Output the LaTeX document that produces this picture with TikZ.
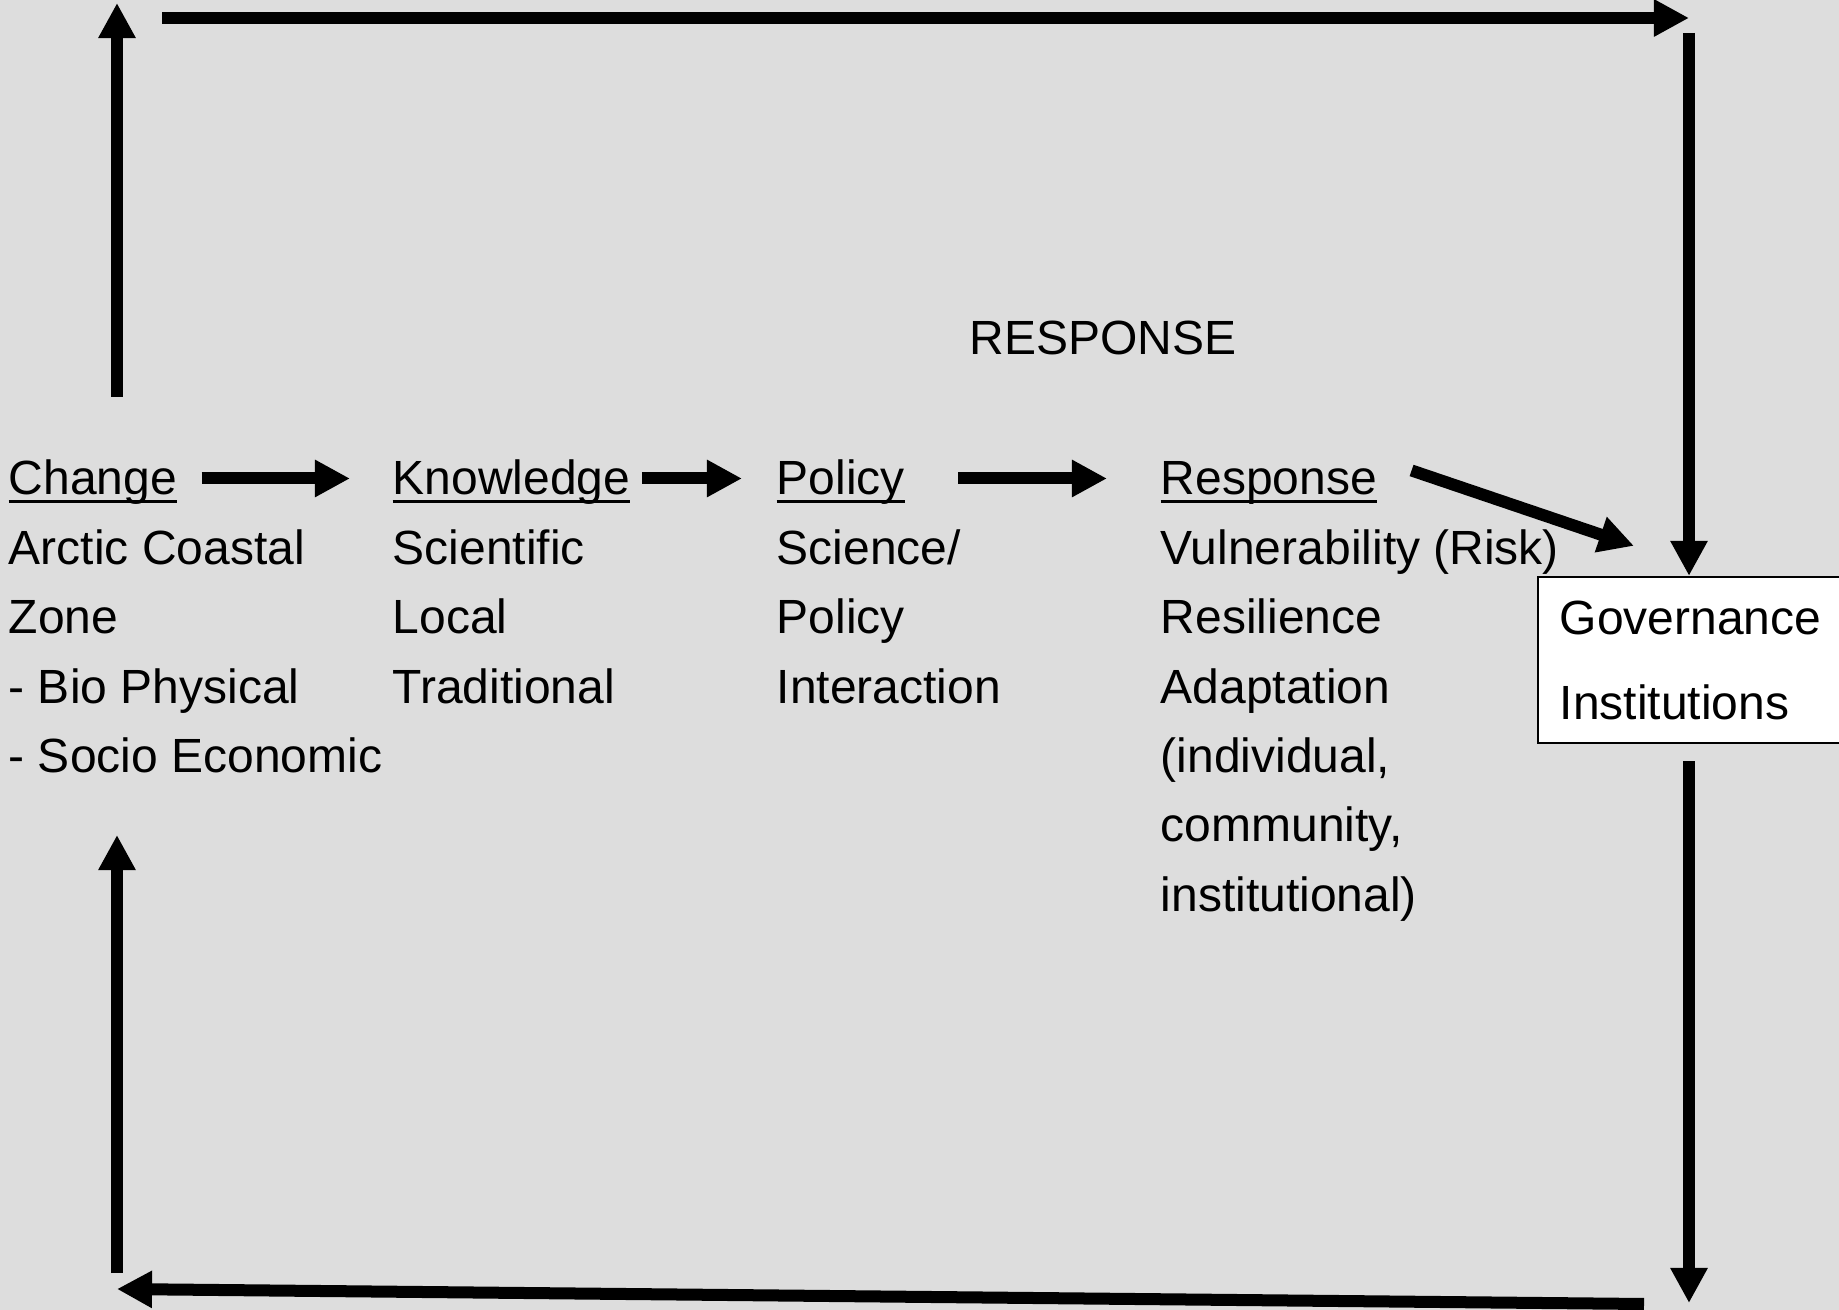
\documentclass[tikz,border=0pt]{standalone}
\usepackage{fontspec}
\setmainfont{Liberation Sans}
\usetikzlibrary{arrows.meta, positioning}
\definecolor{bgGray}{RGB}{221,221,221}
\newcommand{\ulhead}[1]{\setbox0\hbox{#1}\rlap{\rule[-2.3pt]{\wd0}{0.9pt}}\box0}

\begin{document}
\begin{tikzpicture}[x=0.01cm, y=-0.01cm, font=\fontsize{13.65pt}{16pt}\selectfont,
    txt/.style={anchor=base west, inner sep=0pt},
    head/.style={txt, text height=0.33cm, text depth=0pt},
    govbox/.style={draw, fill=white, line width=0.6pt, minimum width=3.02cm, minimum height=1.66cm, inner sep=0pt},
    flow/.style={line width=0.12cm, -{Triangle[length=0.35cm, width=0.35cm]}}]
    \useasboundingbox (0,0) rectangle (1839,1310);
    \clip (0,0) rectangle (1839,1310);
    \fill[bgGray] (0,0) rectangle (1839,1310);

    \coordinate (upBot) at (117,397);
    \coordinate (upTop) at (117,3);
    \coordinate (topL) at (162,18);
    \coordinate (topR) at (1689,18);
    \coordinate (downTop) at (1689,33);
    \coordinate (downBot) at (1689,1303);
    \coordinate (botR) at (1644,1304);
    \coordinate (botL) at (117,1289);
    \coordinate (lowBot) at (117,1273);
    \coordinate (lowTop) at (117,835);

    \node[txt] (title) at (969,355) {RESPONSE};

    \node[head] (change) at (8,495) {\ulhead{Change}};
    \node[head] (knowledge) at (392,495) {\ulhead{Knowledge}};
    \node[head] (policy) at (776,495) {\ulhead{Policy}};
    \node[head] (response) at (1160,495) {\ulhead{Response}};

    \foreach \t [count=\i] in {Arctic Coastal, Zone, - Bio Physical, - Socio Economic}
        \node[txt] (change\i) at (8,495+69.4*\i) {\t};
    \foreach \t [count=\i] in {Scientific, Local, Traditional}
        \node[txt] (knowledge\i) at (392,495+69.4*\i) {\t};
    \foreach \t [count=\i] in {Science/, Policy, Interaction}
        \node[txt] (policy\i) at (776,495+69.4*\i) {\t};
    \foreach \t [count=\i] in {Vulnerability (Risk), Resilience, Adaptation, {(individual,}, {community,}, institutional)}
        \node[txt] (response\i) at (1160,495+69.4*\i) {\t};

    \node[govbox] (gov) at (1689,660) {};
    \node[txt] (gov1) at (1559,635) {Governance};
    \node[txt] (gov2) at (1559,720) {Institutions};

    \draw[flow, shorten <=0.24cm, shorten >=0.42cm] (change.east) -- (knowledge.west);
    \draw[flow, shorten <=0.11cm, shorten >=0.34cm] (knowledge.east) -- (policy.west);
    \draw[flow, shorten <=0.53cm, shorten >=0.53cm] (policy.east) -- (response.west);
    \draw[flow] ([xshift=0.34cm, yshift=0.08cm]response.east) -- ([xshift=0.97cm, yshift=0.30cm]gov.north west);

    \draw[flow] (upBot) -- (upTop);
    \draw[flow] (topL) -- (topR);
    \draw[flow] (downTop) -- (gov.north);
    \draw[flow, shorten <=0.17cm] (gov.south) -- (downBot);
    \draw[flow] (botR) -- (botL);
    \draw[flow] (lowBot) -- (lowTop);
\end{tikzpicture}
\end{document}
